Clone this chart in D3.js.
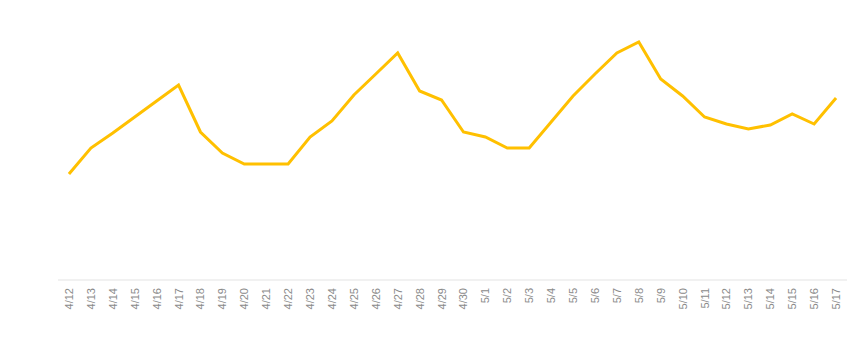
<!DOCTYPE html>
<html>
<head>
<meta charset="utf-8">
<script src="https://cdn.jsdelivr.net/npm/d3@7"></script>
<style>
  body { margin: 0; background: #fff; }
  svg { display: block; }
</style>
</head>
<body>
<div id="chart"></div>
<script>
const dates = ['4/12','4/13','4/14','4/15','4/16','4/17','4/18','4/19','4/20','4/21','4/22','4/23',
  '4/24','4/25','4/26','4/27','4/28','4/29','4/30','5/1','5/2','5/3','5/4','5/5','5/6','5/7','5/8',
  '5/9','5/10','5/11','5/12','5/13','5/14','5/15','5/16','5/17'];

const values = [106, 132, 147, 163, 179, 195, 148, 127, 116, 116, 116, 143,
  159, 185, 206, 227, 189, 180, 148, 143, 132, 132, 158, 184, 206, 227, 238,
  201, 184, 163, 156, 151, 155, 166, 156, 182];

const width = 862, height = 364;
const margin = {top: 30, bottom: 84, left: 58, right: 15};

const svg = d3.select('#chart')
  .append('svg')
  .attr('width', width)
  .attr('height', height);

const x = d3.scaleBand()
  .domain(dates)
  .range([margin.left, width - margin.right]);

const y = d3.scaleLinear()
  .domain([0, 250])
  .range([height - margin.bottom, margin.top]);

const cx = d => x(d) + x.bandwidth() / 2;

// baseline
svg.append('line')
  .attr('x1', margin.left)
  .attr('x2', width - margin.right)
  .attr('y1', y(0))
  .attr('y2', y(0))
  .attr('stroke', '#e3e3e3')
  .attr('stroke-width', 1);

// date labels
svg.append('g')
  .selectAll('text')
  .data(dates)
  .join('text')
  .attr('transform', d => `translate(${cx(d) + 4},${y(0) + 8}) rotate(-90)`)
  .attr('text-anchor', 'end')
  .attr('font-family', 'Liberation Sans, Arial, sans-serif')
  .attr('font-size', 11)
  .attr('fill', '#8a8a8a')
  .text(d => d);

const line = d3.line()
  .x((d, i) => cx(dates[i]))
  .y(d => y(d));

svg.append('path')
  .datum(values)
  .attr('d', line)
  .attr('fill', 'none')
  .attr('stroke', '#ffc000')
  .attr('stroke-width', 3)
  .attr('stroke-linejoin', 'miter');
</script>
</body>
</html>
